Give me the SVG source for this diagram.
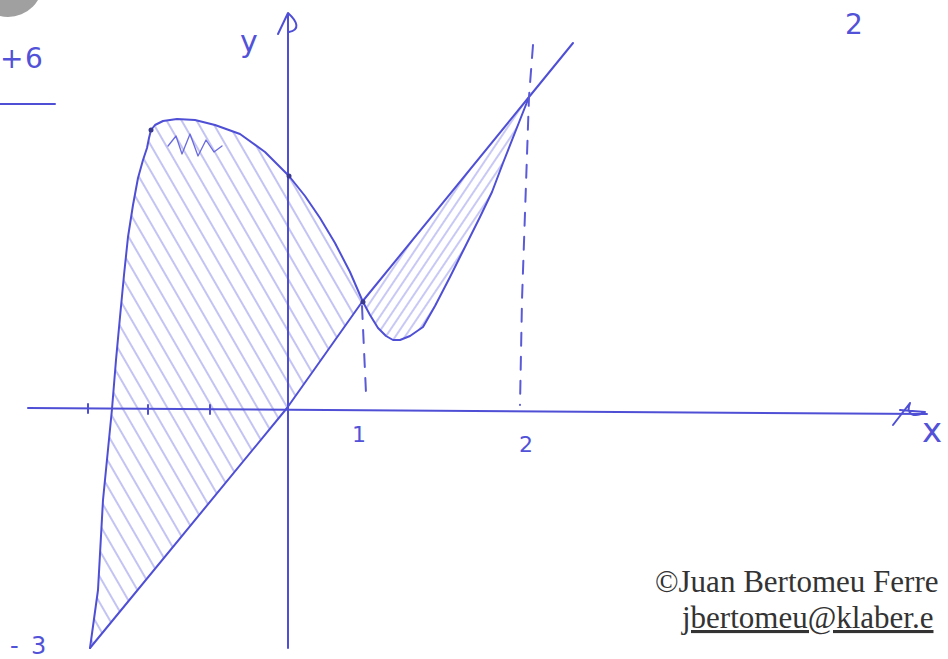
<svg xmlns="http://www.w3.org/2000/svg" width="948" height="659" viewBox="0 0 948 659">
<style>
.ink{fill:none;stroke:#4f4fd6;stroke-width:2;stroke-linecap:round;stroke-linejoin:round}
.dash{fill:none;stroke:#5a5ad8;stroke-width:2;stroke-dasharray:13 11;stroke-linecap:round}
.lbl{font-family:"DejaVu Sans",sans-serif;fill:#5252d8}
.copy{font-family:"Liberation Serif",serif;font-size:31px;fill:#333}
.dot{fill:#3a3a90}
</style>
<defs>
<pattern id="h1" width="13" height="20" patternUnits="userSpaceOnUse" patternTransform="rotate(-30)">
<line x1="6" y1="0" x2="6" y2="20" stroke="#7c7ce8" stroke-width="1.4" stroke-opacity="0.65"/>
</pattern>
<pattern id="h2" width="8" height="20" patternUnits="userSpaceOnUse" patternTransform="rotate(34)">
<line x1="4" y1="0" x2="4" y2="20" stroke="#7c7ce8" stroke-width="1.3" stroke-opacity="0.65"/>
</pattern>
</defs>
<rect width="948" height="659" fill="#fff"/>
<circle cx="8" cy="-18" r="35" fill="#a0a0a0"/>

<g id="hatching">
<polygon fill="url(#h1)" points="90,648 98,590 103,500 112,409 116,360 120,317 124,275 128,237 133,205 138,178 143,160 147,148 149,138 151,130 155,125 163,121 177,119 195,120 215,125 240,134 265,152 289,176 305,196 320,218 335,243 350,272 363,302 287,408"/>
<polygon fill="url(#h2)" points="363,302 370,315 378,328 386,336 393,340 400,340 410,336 423,327 435,306 450,277 465,247 480,217 492,192 503,163 516,130 529,97"/>
<path class="ink" style="stroke-width:1.3;stroke:#6a6ae0" d="M168,146 L176,136 L182,154 L190,134 L198,156 L206,140 L214,152 L222,146"/>
</g>

<g id="axes">
<path class="ink" d="M28,408 L927,414"/>
<path class="ink" d="M893,425 L910,403 M900,410 L925,412 M910,403 C905,415 915,418 925,412"/>
<path class="ink" d="M288,648 L288,15"/>
<path class="ink" d="M278,34 L288,13 C298,22 300,30 289,32"/>
<path class="ink" d="M88,404 L88,413 M148,405 L148,414 M210,405 L210,414"/>
</g>

<g id="connectors">
<polyline class="ink" points="90,648 287,408 362,302 529,97 573,43"/>
<polyline class="ink" points="90,648 98,590 103,500 112,409 116,360 120,317 124,275 128,237 133,205 138,178 143,160 147,148 149,138 151,130 155,125 163,121 177,119 195,120 215,125 240,134 265,152 289,176 305,196 320,218 335,243 350,272 363,302 370,315 378,328 386,336 393,340 400,340 410,336 423,327 435,306 450,277 465,247 480,217 492,192 503,163 516,130 529,97"/>
<path class="dash" d="M362,306 L366,393"/>
<path class="dash" d="M533,45 L529,97 L522,300 L520,405"/>
<circle class="dot" cx="151" cy="130" r="2.5"/>
<circle class="dot" cx="289" cy="176" r="2.5"/>
<circle class="dot" cx="363" cy="302" r="2.5"/>
</g>

<g id="labels">
<text class="lbl" x="240" y="52" font-size="30">y</text>
<text class="lbl" x="922" y="442" font-size="34">x</text>
<text class="lbl" x="352" y="442" font-size="22">1</text>
<text class="lbl" x="519" y="452" font-size="22">2</text>
<text class="lbl" x="845" y="34" font-size="28">2</text>
<text class="lbl" font-size="28" y="68"><tspan x="0">+</tspan><tspan x="25">6</tspan></text>
<path class="ink" d="M0,104 L55,104"/>
<text class="lbl" font-size="24" y="654"><tspan x="10">-</tspan><tspan x="31">3</tspan></text>
</g>

<g id="credit">
<text class="copy" x="655" y="592">©Juan Bertomeu Ferre</text>
<text class="copy" x="682" y="628" text-decoration="underline">jbertomeu@klaber.e</text>
</g>
</svg>
